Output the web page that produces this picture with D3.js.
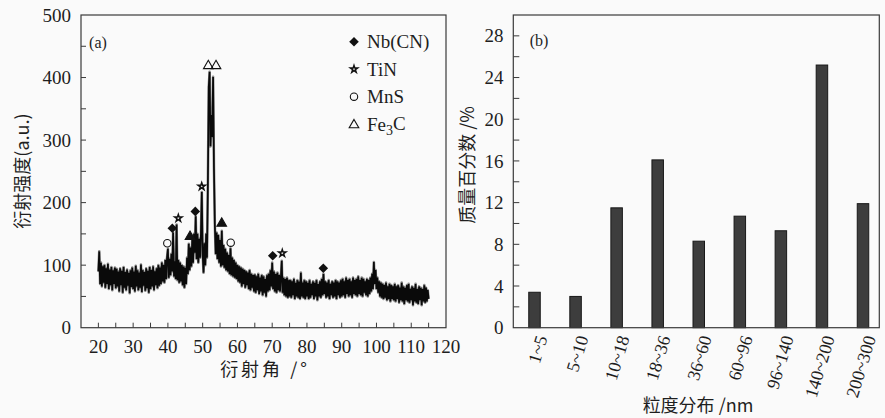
<!DOCTYPE html>
<html><head><meta charset="utf-8">
<script src="https://cdn.jsdelivr.net/npm/d3@7"></script>
<style>
html,body{margin:0;padding:0;background:#fafafa;}
svg{display:block;}
text{font-family:"Liberation Serif","Times New Roman","DejaVu Serif",serif;fill:#1e1e1e;}
.cjk{font-family:"Noto Sans CJK SC","Noto Sans CJK JP",sans-serif;}
</style></head><body>
<svg id="chart" width="885" height="418"></svg>
<script>
// ---------- Panel (a): XRD pattern ----------
const angleStart = 20, angleStep = 0.25;   // sampling of the pattern (degrees)
const intensity = [
  90,122,70,104,66,98,72,100,64,95,70,102,62,93,68,97,60,92,70,96,
  63,94,66,90,58,95,68,91,56,97,64,89,60,93,67,88,55,92,65,96,
  62,90,58,99,66,92,60,88,64,101,57,92,67,89,59,95,63,91,56,97,
  62,92,66,98,60,90,68,95,63,100,67,96,70,104,74,100,72,108,78,112,
  126,80,110,84,118,90,152,82,106,78,165,76,108,72,104,74,100,68,98,64,
  96,70,112,86,134,92,128,98,140,104,150,120,178,110,150,104,142,112,150,217,
  118,88,135,100,150,112,230,385,409,290,340,305,401,255,165,118,152,110,148,104,
  140,98,155,100,132,96,126,92,120,90,116,86,127,84,112,82,108,80,104,78,
  100,74,98,72,96,66,94,70,92,64,90,68,88,62,92,60,86,64,84,58,
  85,56,82,60,86,54,80,58,84,52,82,56,78,50,84,58,86,60,92,66,
  104,62,90,58,86,56,88,60,84,58,80,107,56,80,52,78,50,80,48,76,
  50,76,48,74,52,78,46,72,50,76,48,74,46,88,50,72,48,76,46,74,
  50,72,46,76,48,70,52,74,46,72,50,76,44,70,50,74,48,78,52,86,
  54,74,48,72,50,76,46,70,52,74,48,72,50,76,46,74,52,72,48,76,
  50,78,52,74,48,80,54,76,50,78,52,74,48,80,54,76,52,78,50,82,
  54,76,52,80,50,78,56,74,52,78,50,76,54,80,58,86,62,105,70,92,
  62,80,56,74,50,72,48,70,46,68,48,72,44,66,46,70,42,68,46,66,
  44,70,42,66,46,68,40,64,44,72,42,66,38,64,44,68,42,70,40,62,
  44,66,36,64,42,70,40,62,38,66,44,64,36,62,42,68,40,64,42,60,
  46
];
const xTickLabelsA = [20,30,40,50,60,70,80,90,100,110,120];
const xMinorTicksA = [20,25,30,35,40,45,50,55,60,65,70,75,80,85,90,95,100,105,110,115];
const yTickLabelsA = [0,100,200,300,400,500];
const yMinorTicksA = [50,100,150,200,250,300,350,400,450];

// phase markers above the peaks
const markAngle = [39.83, 41.27, 43.0, 46.36, 47.88, 49.72, 51.62, 53.84, 55.48, 58.07, 70.15, 72.9, 84.7];
const markLevel = [135, 159, 175, 147, 186, 226, 420, 420, 168, 136, 115, 119, 95];
const markPhase = ["MnS","Nb(CN)","TiN","Fe3C","Nb(CN)","TiN","Fe3C","Fe3C","Fe3C","MnS","Nb(CN)","TiN","Nb(CN)"];
const markFilled = [false,true,false,true,true,false,false,false,true,false,true,false,true];

const legendPhases = ["Nb(CN)","TiN","MnS","Fe3C"];

// ---------- Panel (b): size distribution ----------
const sizeBins = ["1~5","5~10","10~18","18~36","36~60","60~96","96~140","140~200","200~300"];
const massPercent = [3.4, 3.0, 11.5, 16.1, 8.3, 10.7, 9.3, 25.2, 11.9];
const yTickLabelsB = [0,4,8,12,16,20,24,28];
const yMinorTicksB = [2,4,6,8,10,12,14,16,18,20,22,24,26,28];

// =====================================================
const svg = d3.select("#chart");
const frameColor = "#3a3a3a";

// ---------- Panel (a) ----------
const ax = d3.scaleLinear().domain([15,120]).range([81,446]);
const ay = d3.scaleLinear().domain([0,500]).range([327.7,15]);
const gA = svg.append("g");

gA.append("rect").attr("x",ax(15)).attr("y",ay(500))
  .attr("width",ax(120)-ax(15)).attr("height",ay(0)-ay(500))
  .attr("fill","none").attr("stroke",frameColor).attr("stroke-width",1.2);

gA.selectAll(".xt").data(xMinorTicksA).join("line")
  .attr("x1",d=>ax(d)).attr("x2",d=>ax(d)).attr("y1",ay(0)).attr("y2",ay(0)-5)
  .attr("stroke",frameColor).attr("stroke-width",1);
gA.selectAll(".yt").data(yMinorTicksA).join("line")
  .attr("x1",ax(15)).attr("x2",ax(15)+5).attr("y1",d=>ay(d)).attr("y2",d=>ay(d))
  .attr("stroke",frameColor).attr("stroke-width",1);

gA.selectAll(".xl").data(xTickLabelsA).join("text")
  .attr("x",d=>ax(d)).attr("y",ay(0)+19).attr("dy","0.35em")
  .attr("text-anchor","middle").attr("font-size",19).text(d=>d);
gA.selectAll(".yl").data(yTickLabelsA).join("text")
  .attr("x",ax(15)-10).attr("y",d=>ay(d)).attr("dy","0.35em")
  .attr("text-anchor","end").attr("font-size",19).text(d=>d);

// pattern
const line = d3.line()
  .x((d,i)=>ax(angleStart + i*angleStep))
  .y(d=>ay(d));
gA.append("path").datum(intensity).attr("d",line)
  .attr("fill","none").attr("stroke","#8a8a8a").attr("stroke-width",2.6)
  .attr("stroke-linejoin","round");
gA.append("path").datum(intensity).attr("d",line)
  .attr("fill","none").attr("stroke","#0a0a0a").attr("stroke-width",1.7)
  .attr("stroke-linejoin","miter");

// markers
function drawMarker(g, phase, filled, cx, cy){
  if(phase==="Nb(CN)"){
    g.append("path").attr("d",d3.symbol(d3.symbolSquare,46)())
      .attr("transform",`translate(${cx},${cy}) rotate(45)`).attr("fill","#111");
  } else if(phase==="TiN"){
    g.append("path").attr("d",d3.symbol(d3.symbolStar,16)())
      .attr("transform",`translate(${cx},${cy})`)
      .attr("fill","#fafafa").attr("stroke","#111").attr("stroke-width",1.5);
  } else if(phase==="MnS"){
    g.append("circle").attr("cx",cx).attr("cy",cy).attr("r",3.7)
      .attr("fill","none").attr("stroke","#111").attr("stroke-width",1.1);
  } else {
    g.append("path").attr("d",d3.symbol(d3.symbolTriangle,40)())
      .attr("transform",`translate(${cx},${cy+0.8})`)
      .attr("fill",filled?"#111":"none").attr("stroke","#111").attr("stroke-width",1.1);
  }
}
markAngle.forEach((a,i)=>drawMarker(gA, markPhase[i], markFilled[i], ax(a), ay(markLevel[i])));

// legend
legendPhases.forEach((p,i)=>{
  const cy = 41.7 + i*27.5;
  drawMarker(gA, p, p==="Nb(CN)", 354, cy);
  const t = gA.append("text").attr("x",367).attr("y",cy).attr("dy","0.35em").attr("font-size",19);
  if(p==="Fe3C"){
    t.append("tspan").text("Fe");
    t.append("tspan").attr("font-size",14).attr("dy","0.3em").text("3");
    t.append("tspan").attr("dy","-0.25em").text("C");
  } else t.text(p);
});

gA.append("text").attr("x",98).attr("y",42.7).attr("dy","0.35em")
  .attr("text-anchor","middle").attr("font-size",16).text("(a)");

gA.append("text").attr("class","cjk")
  .attr("transform",`translate(22.5,171) rotate(-90)`).attr("dy","0.35em")
  .attr("text-anchor","middle").attr("font-size",18)
  .text("衍射强度(a.u.)");
gA.append("text").attr("class","cjk")
  .attr("x",265).attr("y",370).attr("dy","0.35em")
  .attr("text-anchor","middle").attr("font-size",18).attr("letter-spacing","3px")
  .text("衍射角 /°");

// ---------- Panel (b) ----------
const bx = d3.scalePoint().domain(sizeBins).range([534.5,863]);
const by = d3.scaleLinear().domain([0,30]).range([327.7,15]);
const gB = svg.append("g");
const barW = 11.5;

gB.selectAll("rect.bar").data(massPercent).join("rect").attr("class","bar")
  .attr("x",(d,i)=>bx(sizeBins[i])-barW/2).attr("y",d=>by(d))
  .attr("width",barW).attr("height",d=>by(0)-by(d))
  .attr("fill","#3d3d3d").attr("stroke","#181818").attr("stroke-width",1);

gB.append("rect").attr("x",513.3).attr("y",by(30))
  .attr("width",879.3-513.3).attr("height",by(0)-by(30))
  .attr("fill","none").attr("stroke",frameColor).attr("stroke-width",1.2);

gB.selectAll(".yt").data(yMinorTicksB).join("line")
  .attr("x1",513.3).attr("x2",513.3+6).attr("y1",d=>by(d)).attr("y2",d=>by(d))
  .attr("stroke",frameColor).attr("stroke-width",1);
gB.selectAll(".yl").data(yTickLabelsB).join("text")
  .attr("x",503.5).attr("y",d=>by(d)).attr("dy","0.35em")
  .attr("text-anchor","end").attr("font-size",19).text(d=>d);

gB.selectAll(".xl").data(sizeBins).join("text")
  .attr("transform",d=>`translate(${bx(d)+7},${336}) rotate(-73)`)
  .attr("dy","0.35em").attr("text-anchor","end").attr("font-size",18).text(d=>d);

gB.append("text").attr("x",539).attr("y",40).attr("dy","0.35em")
  .attr("text-anchor","middle").attr("font-size",16).text("(b)");

gB.append("text").attr("class","cjk")
  .attr("transform",`translate(468,165) rotate(-90)`).attr("dy","0.35em")
  .attr("text-anchor","middle").attr("font-size",18)
  .text("质量百分数 /%");
gB.append("text").attr("class","cjk")
  .attr("x",698).attr("y",406).attr("dy","0.35em")
  .attr("text-anchor","middle").attr("font-size",18)
  .text("粒度分布 /nm");
</script>
</body></html>
